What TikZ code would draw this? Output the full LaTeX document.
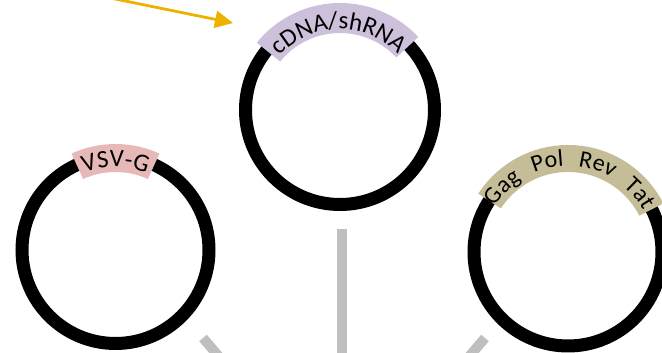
\documentclass[tikz,border=0pt]{standalone}
\usepackage{fontspec}
\newfontfamily\lblfont{Carlito}
\newcommand\bandfont{\lblfont\fontsize{25}{30}\selectfont}
\newcommand\tanfont{\lblfont\fontsize{24}{29}\selectfont}
\usetikzlibrary{decorations.text,arrows.meta}
\definecolor{bandpurple}{HTML}{CCC0DA}
\definecolor{bandpink}{HTML}{E6B9B8}
\definecolor{bandtan}{HTML}{C4BD97}
\definecolor{arrowgold}{HTML}{EDB100}
\definecolor{linkgray}{HTML}{BFBFBF}
\begin{document}
\begin{tikzpicture}[x=1pt,y=1pt,
  ring/.style={draw=black,line width=13pt},
  link/.style={draw=linkgray,line width=10pt},
  pointer/.style={draw=arrowgold,line width=2.8pt,-{Triangle[length=18pt,width=17pt]}}]
\useasboundingbox (0,0) rectangle (662,353);
% centres
\coordinate (mid) at (340,243);
\coordinate (lft) at (115.5,103);
\coordinate (rgt) at (568,101);
% rings
\draw[ring] (mid) circle[radius=94.5];
\draw[ring] (lft) circle[radius=93.5];
\draw[ring] (rgt) circle[radius=94];
% bands
\fill[bandpurple] ([shift={(141:107)}]mid) arc[start angle=141,end angle=43,radius=107]
  -- ([shift={(43:77)}]mid) arc[start angle=43,end angle=141,radius=77] -- cycle;
\fill[bandpink] ([shift={(114.5:106)}]lft) arc[start angle=114.5,end angle=65.5,radius=106]
  -- ([shift={(65.5:78)}]lft) arc[start angle=65.5,end angle=114.5,radius=78] -- cycle;
\fill[bandtan] ([shift={(147:107)}]rgt) arc[start angle=147,end angle=27,radius=107]
  -- ([shift={(27:80)}]rgt) arc[start angle=27,end angle=147,radius=80] -- cycle;
% labels
\begin{scope}
\bandfont
\path[decorate,decoration={text along path,text align={fit to path},
  text={cDNA/shRNA}}]
  ([shift={(138:81)}]mid) arc[start angle=138,end angle=46,radius=81];
\path[decorate,decoration={text along path,text align={fit to path},
  text={VSV-G}}]
  ([shift={(112:83)}]lft) arc[start angle=112,end angle=68,radius=83];
\end{scope}
\begin{scope}
\tanfont
\path[decorate,decoration={text along path,text align={fit to path stretching spaces},
  text={Gag Pol Rev Tat}}]
  ([shift={(148:86)}]rgt) arc[start angle=148,end angle=29,radius=86];
\end{scope}
% arrow
\coordinate (arrowfrom) at (100,357.1);
\coordinate (arrowto) at (233,330);
\draw[pointer] (arrowfrom) -- (arrowto);
% grey links
\coordinate (midtop) at (342,124);
\coordinate (midbot) at (342,-5);
\coordinate (lfttop) at (203,15);
\coordinate (lftbot) at (233,-20);
\coordinate (rgttop) at (485,15);
\coordinate (rgtbot) at (455,-20);
\draw[link] (midtop) -- (midbot);
\draw[link] (lfttop) -- (lftbot);
\draw[link] (rgttop) -- (rgtbot);
\end{tikzpicture}
\end{document}
